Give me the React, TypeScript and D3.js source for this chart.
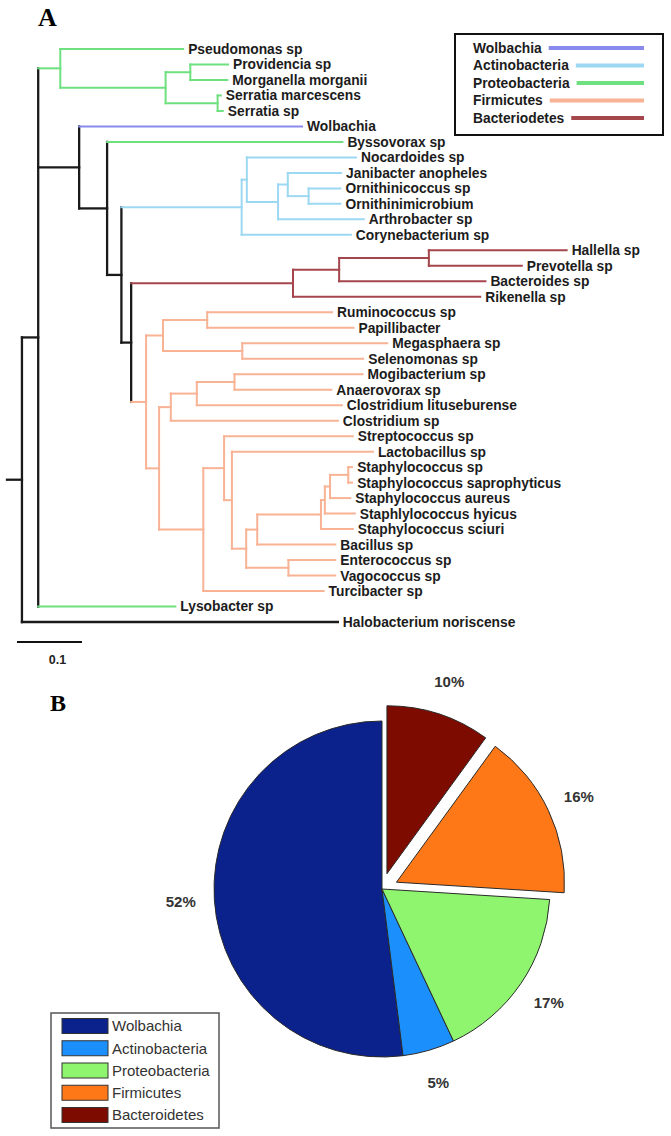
import React from 'react';
import * as d3 from 'd3';

// ---------- Panel A data: phylogenetic tree (child, parent, branch length) ----------
const treeEdges: [string, string, number][] = [
  ['root', '', 0],
  ['R', 'root', 0.023],
  ['A', 'R', 0.025],
  ['P1', 'A', 0.034],
  ['Pseudomonas sp', 'P1', 0.189],
  ['P2', 'P1', 0.162],
  ['P3', 'P2', 0.038],
  ['Providencia sp', 'P3', 0.058],
  ['Morganella morganii', 'P3', 0.057],
  ['P4', 'P2', 0.08],
  ['Serratia marcescens', 'P4', 0.005],
  ['Serratia sp', 'P4', 0.008],
  ['B', 'A', 0.063],
  ['Wolbachia', 'B', 0.343],
  ['C', 'B', 0.043],
  ['Byssovorax sp', 'C', 0.362],
  ['D', 'C', 0.022],
  ['E', 'D', 0.185],
  ['E1', 'E', 0.008],
  ['Nocardoides sp', 'E1', 0.168],
  ['E2', 'E1', 0.048],
  ['E3', 'E2', 0.015],
  ['Janibacter anopheles', 'E3', 0.082],
  ['E4', 'E3', 0.032],
  ['Ornithinicoccus sp', 'E4', 0.049],
  ['Ornithinimicrobium', 'E4', 0.049],
  ['Arthrobacter sp', 'E2', 0.132],
  ['Corynebacterium sp', 'E', 0.168],
  ['F', 'D', 0.015],
  ['G', 'F', 0.249],
  ['G1', 'G', 0.071],
  ['G2', 'G1', 0.138],
  ['Hallella sp', 'G2', 0.212],
  ['Prevotella sp', 'G2', 0.143],
  ['Bacteroides sp', 'G1', 0.225],
  ['Rikenella sp', 'G', 0.288],
  ['H', 'F', 0.023],
  ['H1', 'H', 0.026],
  ['H1a', 'H1', 0.068],
  ['Ruminococcus sp', 'H1a', 0.192],
  ['Papillibacter', 'H1a', 0.225],
  ['H1b', 'H1', 0.122],
  ['Megasphaera sp', 'H1b', 0.223],
  ['Selenomonas sp', 'H1b', 0.186],
  ['H2', 'H', 0.02],
  ['H2a', 'H2', 0.018],
  ['N1', 'H2a', 0.04],
  ['N2', 'N1', 0.058],
  ['Mogibacterium sp', 'N2', 0.197],
  ['Anaerovorax sp', 'N2', 0.149],
  ['Clostridium lituseburense', 'N1', 0.223],
  ['Clostridium sp', 'H2a', 0.257],
  ['H2b', 'H2', 0.068],
  ['H2b1', 'H2b', 0.032],
  ['Streptococcus sp', 'H2b1', 0.198],
  ['H2b2', 'H2b1', 0.012],
  ['Lactobacillus sp', 'H2b2', 0.217],
  ['H2b3', 'H2b2', 0.022],
  ['H2b4', 'H2b3', 0.017],
  ['S1', 'H2b4', 0.098],
  ['S2', 'S1', 0.006],
  ['S3', 'S2', 0.008],
  ['S4', 'S3', 0.028],
  ['Staphylococcus sp', 'S4', 0.006],
  ['Staphylococcus saprophyticus', 'S4', 0.006],
  ['Staphylococcus aureus', 'S3', 0.031],
  ['Staphlylococcus hyicus', 'S2', 0.046],
  ['Staphylococcus sciuri', 'S1', 0.049],
  ['Bacillus sp', 'H2b4', 0.12],
  ['H2b5', 'H2b3', 0.065],
  ['Enterococcus sp', 'H2b5', 0.072],
  ['Vagococcus sp', 'H2b5', 0.072],
  ['Turcibacter sp', 'H2b', 0.185],
  ['Lysobacter sp', 'A', 0.211],
  ['Halobacterium noriscense', 'R', 0.486],
];

// clade assignment: subtree root -> phylum
const cladeRoots: [string, string][] = [
  ['P1', 'Proteobacteria'],
  ['Byssovorax sp', 'Proteobacteria'],
  ['Lysobacter sp', 'Proteobacteria'],
  ['Wolbachia', 'Wolbachia'],
  ['E', 'Actinobacteria'],
  ['G', 'Bacteriodetes'],
  ['H', 'Firmicutes'],
];

const treeLegend = ['Wolbachia', 'Actinobacteria', 'Proteobacteria', 'Firmicutes', 'Bacteriodetes'];
const treeColors = ['#8a8aee', '#9dd8f3', '#6fe07f', '#f8b294', '#a4464c'];
const scaleBarValue = 0.1;

// ---------- Panel B data: pie ----------
const pieCategories = ['Wolbachia', 'Actinobacteria', 'Proteobacteria', 'Firmicutes', 'Bacteroidetes'];
const pieValues = [52, 5, 17, 16, 10];
const pieExploded = [false, false, false, true, true];
const pieColors = ['#0b218c', '#1b90fd', '#8ff56f', '#fe7818', '#7e0b00'];

type Row = [string, string, number];

function measure(text: string, font: string): number {
  const c = document.createElement('canvas').getContext('2d');
  if (!c) return text.length * 8;
  c.font = font;
  return c.measureText(text).width;
}

export default function App() {
  // ---- tree layout ----
  const root = d3
    .stratify<Row>()
    .id((d) => d[0])
    .parentId((d) => (d[1] ? d[1] : null))(treeEdges) as any;

  const cladeMap = new Map(cladeRoots);
  root.eachBefore((n: any) => {
    n.dist = (n.parent ? n.parent.dist : 0) + n.data[2];
    n.clade = cladeMap.get(n.id) || (n.parent ? n.parent.clade : null);
  });
  const leaves = root.leaves();
  const xScale = d3.scaleLinear().domain([0, scaleBarValue]).range([7, 72]);
  const yScale = d3.scaleLinear().domain([0, leaves.length - 1]).range([49, 622]);
  leaves.forEach((l: any, i: number) => (l.y = yScale(i)));
  root.eachAfter((n: any) => {
    if (n.children) n.y = (n.children[0].y + n.children[n.children.length - 1].y) / 2;
  });
  const colorOf = (clade: string | null) =>
    clade ? treeColors[treeLegend.indexOf(clade)] : '#1a1a1a';

  const segs: { x1: number; y1: number; x2: number; y2: number; c: string; w: number }[] = [];
  root.each((n: any) => {
    const c = colorOf(n.clade);
    const w = n.clade ? 2 : 2.3;
    if (n.parent) {
      segs.push({ x1: xScale(n.parent.dist), y1: n.y, x2: xScale(n.dist), y2: n.y, c, w });
    }
    if (n.children && n.children.length > 1) {
      const x = xScale(n.dist);
      segs.push({ x1: x, y1: n.children[0].y, x2: x, y2: n.children[n.children.length - 1].y, c, w });
    }
  });

  const labelFont = 'bold 13.8px "Liberation Sans", Arial, sans-serif';

  // ---- tree legend ----
  const legX = 455, legY = 34, legW = 208, legH = 101;
  const legendRow = d3.scaleLinear().domain([0, 4]).range([48, 118]);

  // ---- pie ----
  const cx = 382, cy = 889, r = 168, explodeOff = 16;
  const arcs = d3.pie<number>().sort(null).startAngle(0).endAngle(-2 * Math.PI)(pieValues);
  const arcGen = d3.arc<d3.PieArcDatum<number>>().innerRadius(0).outerRadius(r);
  const total = d3.sum(pieValues);
  const pieLegRow = d3.scaleLinear().domain([0, 4]).range([1026, 1115]);

  return (
    <svg
      width={671}
      height={1136}
      style={{ position: 'absolute', left: 0, top: 0, background: '#fff', display: 'block' }}
      fontFamily='"Liberation Sans", Arial, sans-serif'
    >
      <rect x={0} y={0} width={671} height={1136} fill="#fff" />
      {/* Panel label A */}
      <text x={38} y={26} fontFamily='"Liberation Serif", "Times New Roman", serif' fontWeight="bold" fontSize={26} fill="#000">
        A
      </text>

      {/* tree branches */}
      <g strokeLinecap="square">
        {segs.map((s, i) => (
          <line key={i} x1={s.x1} y1={s.y1} x2={s.x2} y2={s.y2} stroke={s.c} strokeWidth={s.w} />
        ))}
      </g>
      {/* tip labels */}
      <g fontWeight="bold" fontSize={13.8} fill="#1c1c1c">
        {leaves.map((l: any) => (
          <text key={l.id} x={xScale(l.dist) + 5} y={l.y} dy="0.36em">
            {l.id}
          </text>
        ))}
      </g>

      {/* tree legend */}
      <rect x={legX} y={legY} width={legW} height={legH} fill="#fff" stroke="#111" strokeWidth={2} />
      {treeLegend.map((name, i) => {
        const y = legendRow(i);
        const tw = measure(name, labelFont);
        return (
          <g key={name}>
            <text x={473} y={y} dy="0.36em" fontWeight="bold" fontSize={13.8} fill="#1c1c1c">
              {name}
            </text>
            <line x1={473 + tw + 7} x2={644} y1={y} y2={y} stroke={treeColors[i]} strokeWidth={4} />
          </g>
        );
      })}

      {/* scale bar */}
      <line x1={xScale(0) + 10} x2={xScale(scaleBarValue) + 10} y1={642} y2={642} stroke="#111" strokeWidth={2} />
      <text x={(xScale(0) + xScale(scaleBarValue)) / 2 + 18} y={664} textAnchor="middle" fontWeight="bold" fontSize={12.5} fill="#222">
        {scaleBarValue}
      </text>

      {/* Panel label B */}
      <text x={50} y={711} fontFamily='"Liberation Serif", "Times New Roman", serif' fontWeight="bold" fontSize={24} fill="#000">
        B
      </text>

      {/* pie */}
      {arcs.map((a, i) => {
        const mid = (a.startAngle + a.endAngle) / 2;
        const dx = Math.sin(mid), dy = -Math.cos(mid);
        const off = pieExploded[i] ? explodeOff : 0;
        return (
          <path
            key={pieCategories[i]}
            d={arcGen(a) || ''}
            transform={`translate(${cx + dx * off},${cy + dy * off})`}
            fill={pieColors[i]}
            stroke="#2a2a2a"
            strokeWidth={1}
          />
        );
      })}
      {arcs.map((a, i) => {
        const mid = (a.startAngle + a.endAngle) / 2;
        const dx = Math.sin(mid), dy = -Math.cos(mid);
        const off = pieExploded[i] ? explodeOff : 0;
        const rr = off + r * 1.2;
        return (
          <text
            key={'l' + i}
            x={cx + dx * rr}
            y={cy + dy * rr}
            dy="0.35em"
            textAnchor="middle"
            fontWeight="bold"
            fontSize={15}
            fill="#333"
          >
            {`${Math.round((pieValues[i] / total) * 100)}%`}
          </text>
        );
      })}

      {/* pie legend */}
      <rect x={51} y={1013} width={168} height={115} fill="#fff" stroke="#555" strokeWidth={1.5} />
      {pieCategories.map((name, i) => {
        const y = pieLegRow(i);
        return (
          <g key={name}>
            <rect x={62} y={y - 7.5} width={46} height={15} fill={pieColors[i]} stroke="#333" strokeWidth={1} />
            <text x={112} y={y} dy="0.36em" fontSize={15} fill="#333">
              {name}
            </text>
          </g>
        );
      })}
    </svg>
  );
}
